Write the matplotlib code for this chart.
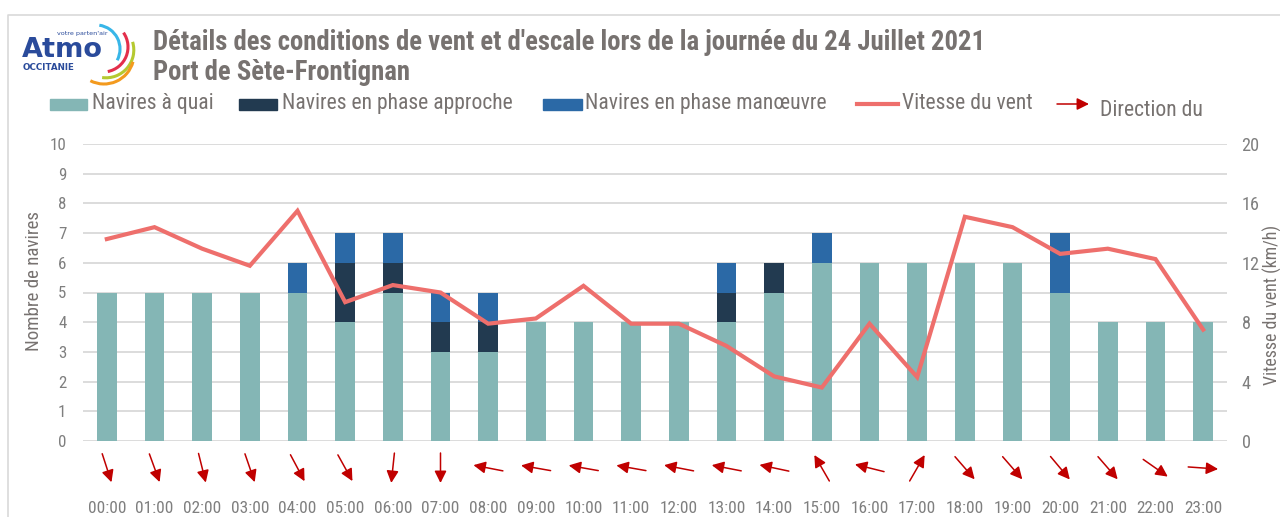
import numpy as np
import matplotlib
matplotlib.use("Agg")
import matplotlib.pyplot as plt
from matplotlib import font_manager as fm
from matplotlib.patches import Rectangle, Arc
from matplotlib.lines import Line2D
from matplotlib.transforms import ScaledTranslation

# ---------------- data ----------------
hours = ["00:00", "01:00", "02:00", "03:00", "04:00", "05:00", "06:00", "07:00",
         "08:00", "09:00", "10:00", "11:00", "12:00", "13:00", "14:00", "15:00",
         "16:00", "17:00", "18:00", "19:00", "20:00", "21:00", "22:00", "23:00"]
navires_quai = [5, 5, 5, 5, 5, 4, 5, 3, 3, 4, 4, 4, 4, 4, 5, 6, 6, 6, 6, 6, 5, 4, 4, 4]
navires_approche = [0, 0, 0, 0, 0, 2, 1, 1, 1, 0, 0, 0, 0, 1, 1, 0, 0, 0, 0, 0, 0, 0, 0, 0]
navires_manoeuvre = [0, 0, 0, 0, 1, 1, 1, 1, 1, 0, 0, 0, 0, 1, 0, 1, 0, 0, 0, 0, 2, 0, 0, 0]
vitesse_vent = [13.6, 14.4, 12.95, 11.8, 15.5, 9.35, 10.5, 10.0, 7.9, 8.25, 10.45, 7.9,
                7.9, 6.4, 4.35, 3.6, 7.9, 4.3, 15.1, 14.4, 12.6, 12.95, 12.25, 7.5]
# bearing (degrees, clockwise from north) toward which the arrow points
direction_vent = [162, 160, 166, 161, 152, 151, 186, 180, 281, 280, 280, 280,
                  281, 281, 282, 330, 284, 30, 139, 139, 140, 139, 125, 94]
left_ticks = list(range(0, 11))
right_ticks = [0, 4, 8, 12, 16, 20]

# ---------------- font choice (prefer a narrow/condensed sans) ----------------
entries = fm.fontManager.ttflist
FAMILY, STRETCH = 'Liberation Sans', 'normal'
found = False
for nm in ['Liberation Sans Narrow', 'Arial Narrow', 'Roboto Condensed',
           'Open Sans Condensed', 'Noto Sans Condensed', 'DejaVu Sans Condensed']:
    if any(f.name == nm for f in entries):
        FAMILY, STRETCH, found = nm, 'normal', True
        break
if not found:
    for nm in ['Noto Sans', 'Open Sans', 'Roboto', 'DejaVu Sans']:
        if any(f.name == nm and str(f.stretch) in ('condensed', 'semi-condensed', 'extra-condensed')
               for f in entries):
            FAMILY, STRETCH = nm, 'condensed'
            break
plt.rcParams['font.family'] = [FAMILY, 'DejaVu Sans']
plt.rcParams['font.stretch'] = STRETCH

C_QUAI = '#84B6B5'
C_APPR = '#223A50'
C_MANO = '#2B69A6'
C_LINE = '#EE6F6C'
C_ARROW = '#C00000'
C_GRID = '#D9D9D9'
C_TICK = '#7F7F7F'
C_TEXT = '#777270'
C_LOGO = '#2A4B9B'

W, H = 1280, 517
fig = plt.figure(figsize=(W / 100, H / 100), dpi=100)
fig.patch.set_facecolor('white')

# overlay for decorations (pixel coordinates, y downward)
ov = fig.add_axes([0, 0, 1, 1], zorder=0)
ov.set_xlim(0, W)
ov.set_ylim(H, 0)
ov.axis('off')

# chart border
ov.add_line(Line2D([8, 8, W + 5], [H + 5, 15, 15], color=C_GRID, lw=1.2))

# ---- logo ----
ov.text(22, 57, "Atmo", fontsize=19.5, fontweight='bold', color=C_LOGO,
        family='DejaVu Sans', fontstretch='normal', ha='left', va='baseline')
ov.text(57, 33, "votre parten'air", fontsize=4.6, color=C_LOGO, family='DejaVu Sans',
        fontstretch='normal', ha='left', va='center')
ov.text(23, 68, "OCCITANIE", fontsize=6.3, color=C_LOGO, family='DejaVu Sans',
        fontstretch='normal', fontweight='bold', ha='left', va='center')
for (cx, cy, r, t1, t2, col) in [(96, 49, 24, -28, 82, '#38B6E8'),
                                 (103, 47, 25, -79, 35, '#E32F4B'),
                                 (106, 50, 27.8, -98, 17, '#B5C930'),
                                 (104, 54, 30, -117, -15, '#F39A1E')]:
    ov.add_patch(Arc((cx, cy), 2 * r, 2 * r, theta1=-t2, theta2=-t1, color=col, lw=2.2))

# ---- title ----
t_title1 = ov.text(153, 43, "Détails des conditions de vent et d'escale lors de la journée du 24 Juillet 2021",
                   fontsize=17, fontweight='bold', color=C_TEXT, ha='left', va='center')
t_title2 = ov.text(153, 73, "Port de Sète-Frontignan", fontsize=17, fontweight='bold',
                   color=C_TEXT, ha='left', va='center')

# ---- legend ----
LEG_FS = 16
ov.add_patch(Rectangle((50, 98.5), 37, 11, color=C_QUAI))
ov.add_patch(Rectangle((239, 98.5), 38, 11, color=C_APPR))
ov.add_patch(Rectangle((543, 98.5), 39, 11, color=C_MANO))
ov.add_line(Line2D([857, 898], [103.5, 103.5], color=C_LINE, lw=3))
ov.annotate('', xy=(1089, 104), xytext=(1057, 104),
            arrowprops=dict(arrowstyle='-|>,head_length=0.4,head_width=0.2', color=C_ARROW,
                            lw=1.1, mutation_scale=18, shrinkA=0, shrinkB=0))
leg_specs = [(92, 103.5, "Navires à quai", 121), (282, 103.5, "Navires en phase approche", 236),
             (585, 103.5, "Navires en phase manœuvre", 247), (902, 103.5, "Vitesse du vent", 131),
             (1100, 111, "Direction du", 100)]
leg_texts = [ov.text(xx, yy, s, fontsize=LEG_FS, color=C_TEXT, ha='left', va='center')
             for (xx, yy, s, _) in leg_specs]

# ---------------- main axes ----------------
left, right = 83 / W, 1227 / W
bottom, top = (H - 441) / H, (H - 144) / H
ax = fig.add_axes([left, bottom, right - left, top - bottom], zorder=1)
ax.set_facecolor('none')
x = np.arange(len(hours))
q = np.array(navires_quai)
a = np.array(navires_approche)
m = np.array(navires_manoeuvre)
bw = 0.41
ax.bar(x, q, width=bw, color=C_QUAI, zorder=2)
ax.bar(x, a, width=bw, bottom=q, color=C_APPR, zorder=2)
ax.bar(x, m, width=bw, bottom=q + a, color=C_MANO, zorder=2)
ax.set_xlim(-0.5, len(hours) - 0.5)
ax.set_ylim(0, 10)
ax.set_yticks(left_ticks)
ax.yaxis.grid(True, color=C_GRID, lw=1.3, zorder=0)
ax.set_axisbelow(True)
for s in ax.spines.values():
    s.set_visible(False)
ax.set_xticks(x)
ax.set_xticklabels(hours)
ax.tick_params(axis='x', length=0, pad=43, labelsize=12.5, labelcolor=C_TICK)
ax.tick_params(axis='y', length=0, pad=12, labelsize=12, labelcolor=C_TICK)
ax.set_ylabel("Nombre de navires", fontsize=14.5, color=C_TEXT)
AXW, AXH = 1227 - 83, 441 - 144
ax.yaxis.set_label_coords((43 - 83) / AXW, (441 - 281) / AXH)

ax2 = ax.twinx()
ax2.plot(x, vitesse_vent, color=C_LINE, lw=3, solid_joinstyle='miter', zorder=3)
ax2.set_ylim(0, 20)
ax2.set_yticks(right_ticks)
ax2.tick_params(axis='y', length=0, pad=10.5, labelsize=13.5, labelcolor=C_TICK)
for s in ax2.spines.values():
    s.set_visible(False)
ax2.set_ylabel("Vitesse du vent (km/h)", fontsize=14.5, color=C_TEXT, rotation=90)
ax2.yaxis.set_label_coords((1263 - 83) / AXW, (441 - 305) / AXH)

# ---- wind direction arrows below the axis ----
L = 30.0  # px
yc = -27.0  # px below axis bottom
for i, b in enumerate(direction_vent):
    r = np.radians(b)
    ux, uy = np.sin(r), np.cos(r)
    tr = ax.get_xaxis_transform() + ScaledTranslation(ux * L / 2 / 100, (uy * L / 2 + yc) / 100,
                                                      fig.dpi_scale_trans)
    ax.annotate('', xy=(x[i], 0), xycoords=tr,
                xytext=(-ux * L * 0.72, -uy * L * 0.72), textcoords='offset points',
                arrowprops=dict(arrowstyle='-|>,head_length=0.4,head_width=0.2', color=C_ARROW,
                                lw=1.1, mutation_scale=18, shrinkA=0, shrinkB=0),
                annotation_clip=False)

# ---------------- fit text sizes to the reference widths ----------------
fig.canvas.draw()
rend = fig.canvas.get_renderer()


def width_of(t):
    return t.get_window_extent(rend).width


s1 = t_title1.get_fontsize() * 835 / width_of(t_title1)
t_title1.set_fontsize(s1)
t_title2.set_fontsize(s1)

ratios = [tw / width_of(t) for t, (_, _, _, tw) in zip(leg_texts, leg_specs)]
ls = LEG_FS * float(np.mean(ratios))
for t in leg_texts:
    t.set_fontsize(ls)

xl = ax.get_xticklabels()[22]
ax.tick_params(axis='x', labelsize=12.5 * 38 / width_of(xl))
yl = ax.get_yticklabels()[10]
ax.tick_params(axis='y', labelsize=12 * 16.5 / width_of(yl))
yr = ax2.get_yticklabels()[5]
ax2.tick_params(axis='y', labelsize=13.5 * 18 / width_of(yr))

lab1 = ax.yaxis.label
lab1.set_fontsize(14.5 * 140 / lab1.get_window_extent(rend).height)
lab2 = ax2.yaxis.label
lab2.set_fontsize(14.5 * 160 / lab2.get_window_extent(rend).height)

fig.savefig("out.png", dpi=100)
